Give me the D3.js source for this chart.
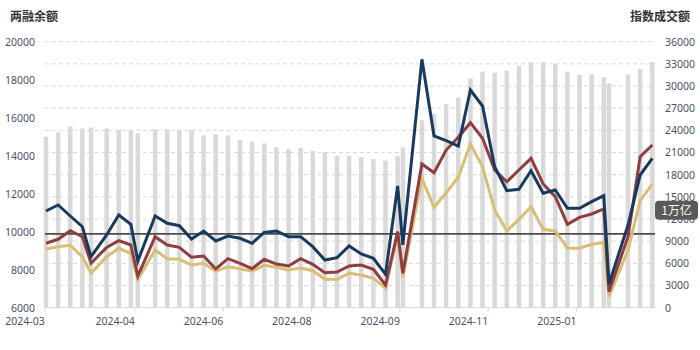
<!DOCTYPE html>
<html>
<head>
<meta charset="utf-8">
<script src="https://cdn.jsdelivr.net/npm/d3@7"></script>
<style>
  html, body { margin: 0; padding: 0; background: #fff; }
  svg { display: block; font-family: "Noto Sans CJK SC", "Noto Sans", sans-serif; }
</style>
</head>
<body>
<svg id="chart" width="700" height="350"></svg>
<script>
// Weekly observation dates (last trading day of each week)
const dates = [
  "2024-03-08","2024-03-15","2024-03-22","2024-03-29","2024-04-03","2024-04-12","2024-04-19","2024-04-26","2024-04-30",
  "2024-05-10","2024-05-17","2024-05-24","2024-05-31","2024-06-07","2024-06-14","2024-06-21","2024-06-28",
  "2024-07-05","2024-07-12","2024-07-19","2024-07-26","2024-08-02","2024-08-09","2024-08-16","2024-08-23","2024-08-30",
  "2024-09-06","2024-09-13","2024-09-20","2024-09-27","2024-09-30","2024-10-11","2024-10-18","2024-10-25",
  "2024-11-01","2024-11-08","2024-11-15","2024-11-22","2024-11-29","2024-12-06","2024-12-13","2024-12-20","2024-12-27",
  "2025-01-03","2025-01-10","2025-01-17","2025-01-24","2025-01-27","2025-02-07","2025-02-14","2025-02-21"
];

// 两融余额 (亿元), left axis, drawn as bars
const marginBalance = [
  15000,15230,15530,15440,15490,15440,15350,15300,15180,
  15390,15390,15350,15350,15070,15130,15070,14830,
  14740,14650,14440,14350,14400,14250,14190,14000,13980,
  13920,13810,13740,13980,14440,15880,16190,16720,
  17050,18070,18420,18370,18470,18720,18920,18920,18830,
  18420,18250,18280,18130,17810,18280,18560,18920
];

// 指数成交额 (亿元), right axis, three turnover series
const turnoverBlue = [
  13090,13900,12410,10960,6900,9840,12550,11290,6320,
  12410,11420,11100,9300,10380,9030,9700,9390,
  8720,10200,10380,9610,9610,8260,6450,6770,8350,
  7270,6690,4520,16470,8490,33620,23240,22600,
  21880,29460,27300,19080,15830,16020,18540,15480,15930,
  13450,13450,14350,15160,3210,11190,17960,20220
];
const turnoverRed = [
  8720,9260,10420,9610,6010,8170,9070,8490,4290,
  9610,8490,8170,6820,7000,5240,6630,6010,
  5280,6550,5910,5640,6630,5870,4740,4830,5640,
  5780,5200,3070,10290,4660,19450,18270,21340,
  23060,25040,22930,18640,17050,18640,20220,16740,15020,
  11290,12230,12680,13360,2170,9610,20440,22020
];
const turnoverGold = [
  7940,8260,8440,6900,4660,6900,8040,7360,3840,
  7810,6630,6550,5780,6010,4930,5550,5280,
  4930,5740,5470,5100,5370,5010,3840,3840,4660,
  4430,3980,2630,9840,4110,17510,13590,15560,
  17650,22150,19080,13220,10380,11960,13670,10610,10380,
  8040,8040,8580,8800,1490,7810,14480,16740
];

// Axis ticks
const leftTicks = [6000, 8000, 10000, 12000, 14000, 16000, 18000, 20000];
const rightTicks = [0, 3000, 6000, 9000, 12000, 15000, 18000, 21000, 24000, 27000, 30000, 33000, 36000];
const xTickDates = ["2024-03-07","2024-04-28","2024-06-18","2024-08-08","2024-09-28","2024-11-18","2025-01-08"];

// Reference level: 1万亿 on the turnover axis
const refValue = 10000;
const refLabel = "1万亿";

const parse = d3.timeParse("%Y-%m-%d");
const fmtMonth = d3.timeFormat("%Y-%m");
const days = dates.map(parse);

const svg = d3.select("#chart");
const plotLeft = 45, plotRight = 655, plotTop = 41.7, plotBottom = 307.7;

const x = d3.scaleTime()
  .domain([parse("2024-03-08"), parse("2025-02-21")])
  .range([46, 652.3]);
const yL = d3.scaleLinear().domain([6000, 20000]).range([plotBottom, plotTop]);
const yR = d3.scaleLinear().domain([0, 36000]).range([plotBottom, plotTop]);

const labelColor = "#4a5068";

// Horizontal dashed gridlines on the turnover scale
svg.append("g")
  .selectAll("line")
  .data(rightTicks.filter(v => v > 0))
  .join("line")
  .attr("x1", plotLeft).attr("x2", plotRight)
  .attr("y1", d => yR(d)).attr("y2", d => yR(d))
  .attr("stroke", "#d9d9d9")
  .attr("stroke-width", 1)
  .attr("stroke-dasharray", "4,3");

// Margin-balance bars
const barW = 4.5;
svg.append("g")
  .selectAll("rect")
  .data(marginBalance)
  .join("rect")
  .attr("x", (d, i) => x(days[i]) - barW / 2)
  .attr("width", barW)
  .attr("y", d => yL(d))
  .attr("height", d => yL(6000) - yL(d))
  .attr("fill", "#d9d9d9");

// Bottom axis
const xAxis = d3.axisBottom(x)
  .tickValues(xTickDates.map(parse))
  .tickSize(4)
  .tickFormat(fmtMonth);
const gx = svg.append("g")
  .attr("transform", `translate(0,${plotBottom})`)
  .call(xAxis);
gx.select(".domain").remove();
gx.append("line")
  .attr("x1", plotLeft).attr("x2", plotRight)
  .attr("y1", 0).attr("y2", 0)
  .attr("stroke", "#d9d9d9");
gx.selectAll(".tick line").attr("stroke", "#d9d9d9");
gx.selectAll(".tick text")
  .attr("text-anchor", "end")
  .attr("y", 10)
  .attr("dy", "0.71em")
  .attr("fill", labelColor)
  .style("font-size", "10.5px")
  .style("font-family", '"Noto Sans", sans-serif');

// Left axis labels
const gl = svg.append("g")
  .attr("transform", `translate(${plotLeft},0)`)
  .call(d3.axisLeft(yL).tickValues(leftTicks).tickSize(0).tickPadding(10).tickFormat(d3.format("d")));
gl.select(".domain").remove();
gl.selectAll(".tick text")
  .attr("fill", labelColor)
  .style("font-size", "10.5px")
  .style("font-family", '"Noto Sans", sans-serif');

// Right axis labels
const gr = svg.append("g")
  .attr("transform", `translate(${plotRight},0)`)
  .call(d3.axisRight(yR).tickValues(rightTicks).tickSize(0).tickPadding(10).tickFormat(d3.format("d")));
gr.select(".domain").remove();
gr.selectAll(".tick text")
  .attr("fill", labelColor)
  .style("font-size", "10.5px")
  .style("font-family", '"Noto Sans", sans-serif');

// 1万亿 reference line
svg.append("line")
  .attr("x1", plotLeft).attr("x2", plotRight)
  .attr("y1", yR(refValue)).attr("y2", yR(refValue))
  .attr("stroke", "#4d4d4d")
  .attr("stroke-width", 1.8);

// Turnover lines
const series = [
  { values: turnoverGold, color: "#d9be76" },
  { values: turnoverRed, color: "#8e3d40" },
  { values: turnoverBlue, color: "#173a5e" }
];
const line = d3.line()
  .x((d, i) => x(days[i]))
  .y(d => yR(d));
svg.append("g")
  .selectAll("path")
  .data(series)
  .join("path")
  .attr("d", s => line(s.values))
  .attr("fill", "none")
  .attr("stroke", s => s.color)
  .attr("stroke-width", 3)
  .attr("stroke-linejoin", "miter");

// Axis titles
svg.append("text")
  .attr("x", 10).attr("y", 21)
  .attr("fill", "#333")
  .style("font-size", "12px")
  .style("font-weight", "bold")
  .text("两融余额");
svg.append("text")
  .attr("x", 690).attr("y", 21)
  .attr("text-anchor", "end")
  .attr("fill", "#333")
  .style("font-size", "12px")
  .style("font-weight", "bold")
  .text("指数成交额");

// Reference tag
const tag = svg.append("g").attr("transform", `translate(655,${yR(refValue) - 33})`);
tag.append("rect")
  .attr("width", 43).attr("height", 19).attr("rx", 4)
  .attr("fill", "#595959");
tag.append("text")
  .attr("x", 21.5).attr("y", 9.5)
  .attr("dy", "0.35em")
  .attr("text-anchor", "middle")
  .attr("fill", "#fff")
  .style("font-size", "12px")
  .text(refLabel);
</script>
</body>
</html>
